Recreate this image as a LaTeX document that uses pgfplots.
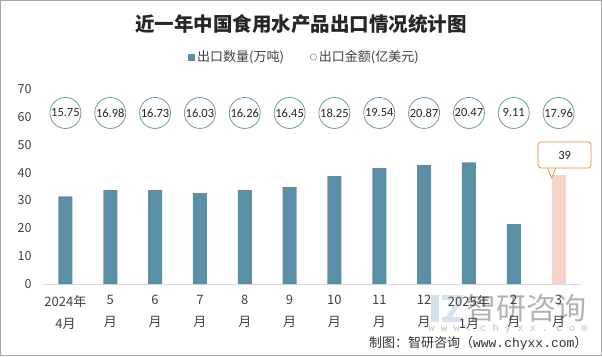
\documentclass[border=0pt]{standalone}
\usepackage{fontspec}
\setmainfont{Noto Sans CJK SC}
\newfontfamily\carl{Carlito}
\newfontfamily\monof{Liberation Mono}
\usepackage{pgfplots}
\usepackage{pgfplotstable}
\pgfplotsset{compat=1.18}
\definecolor{barblue}{HTML}{5B8FA6}
\definecolor{barpink}{HTML}{F8D3CA}
\definecolor{circblue}{HTML}{6A9AB2}
\definecolor{callorange}{HTML}{E88C30}
\definecolor{txt}{HTML}{404040}
\definecolor{logoblue}{HTML}{C5D5EA}

\pgfplotstableread{
x y
0 31.5
1 33.7
2 33.7
3 32.6
4 33.7
5 34.8
6 38.7
7 41.6
8 42.7
9 43.7
10 21.5
}\qtydata

\pgfplotstableread{
x y lab
0 61.4 15.75
1 61.4 16.98
2 61.4 16.73
3 61.4 16.03
4 61.4 16.26
5 61.4 16.45
6 61.4 18.25
7 61.4 19.54
8 61.4 20.87
9 61.4 20.47
10 61.4 9.11
11 61.4 17.96
}\valdata

\begin{document}
\begin{tikzpicture}[x=1pt,y=1pt]
\useasboundingbox (0,0) rectangle (602,356);
\draw[black!35, line width=1.2pt] (0.6,0.6) rectangle (601.4,355.4);
\node[font=\fontsize{19.5}{22}\selectfont\bfseries, text=black!85] at (301,332) {近一年中国食用水产品出口情况统计图};
% watermark
\fill[logoblue, opacity=0.7] (431,34) rectangle (439,61);
\fill[logoblue, opacity=0.7] (442,56) rectangle (463,61);
\fill[logoblue, opacity=0.7] (442,34) rectangle (463,39);
\fill[logoblue, opacity=0.7] (452,39) -- (463,56) -- (457,56) -- (446,39) -- cycle;
\node[font=\fontsize{30}{32}\selectfont, text=black!30] at (526,48) {智研咨询};
\node[font=\monof\fontsize{10.3}{12}\selectfont, text=black!25] at (508,27) {w w w . c h y x x . c o m};
\node[anchor=east, font=\fontsize{13}{15}\selectfont, text=black!80] at (591,13) {制图：智研咨询（{\monof www.chyxx.com}）};
\begin{axis}[
 at={(43pt,72pt)}, anchor=south west, scale only axis, width=538pt, height=195pt,
 xmin=-0.5, xmax=11.5, ymin=0, ymax=70,
 ytick={0,10,...,70},
 xtick={0,...,11},
 xticklabels={{2024年\\4月},{5\\月},{6\\月},{7\\月},{8\\月},{9\\月},{10\\月},{11\\月},{12\\月},{2025年\\1月},{2\\月},{3\\月}},
 xticklabel style={align=center, font=\fontsize{13}{22}\selectfont, text=txt, yshift=-8pt},
 yticklabel style={font=\fontsize{12.5}{15}\selectfont, text=txt, xshift=-8pt},
 /pgf/number format/assume math mode=true,
 major tick length=0pt,
 axis x line*=bottom, axis y line*=left,
 axis line style={-},
 x axis line style={draw=black!15, line width=1pt},
 y axis line style={draw=none},
 clip=false,
 legend style={at={(axis description cs:0.486,1.164)}, anchor=center, draw=none, fill=none, legend columns=2, font=\fontsize{13}{15}\selectfont, text=txt, /tikz/every even column/.append style={column sep=24pt}},
]
\addplot[ybar, bar width=14pt, bar shift=0pt, fill=barblue, draw=none,
  legend image code/.code={\fill[barblue] (0pt,-3.5pt) rectangle (7pt,3.5pt);}]
  table[x=x,y=y]{\qtydata};
\addlegendentry{出口数量(万吨)}
\addplot[only marks, mark=*, mark size=15.5pt,
  mark options={fill=white, draw=circblue, line width=0.8pt},
  point meta=explicit symbolic, nodes near coords, nodes near coords align={anchor=center},
  every node near coord/.append style={font=\carl\fontsize{12.5}{15}\selectfont, text=black!85},
  legend image code/.code={\draw[circblue, line width=0.6pt, fill=white] (3.5pt,0) circle (3.2pt);}]
  table[x=x,y=y,meta=lab]{\valdata};
\addlegendentry{出口金额(亿美元)}
\addplot[ybar, bar width=14pt, bar shift=0pt, fill=barpink, draw=none, forget plot,
  point meta=explicit symbolic, nodes near coords, nodes near coords align={anchor=south},
  every node near coord/.append style={draw=callorange, fill=white,
    minimum width=53pt, minimum height=26pt, xshift=6pt, yshift=7pt,
    inner sep=0pt, rounded corners=3pt, line width=0.7pt,
    font=\carl\fontsize{12.5}{15}\selectfont, text=black!85,
    append after command={
      \pgfextra{\path[fill=white, draw=none] ([xshift=-17pt,yshift=0.9pt]\tikzlastnode.south) -- ([xshift=-13pt,yshift=-10pt]\tikzlastnode.south) -- ([xshift=-9pt,yshift=0.9pt]\tikzlastnode.south) -- cycle;
      \path[draw=callorange, fill=none, line width=0.7pt, line join=round, sharp corners] ([xshift=-17pt]\tikzlastnode.south) -- ([xshift=-13pt,yshift=-10pt]\tikzlastnode.south) -- ([xshift=-9pt]\tikzlastnode.south);}
    }}]
  coordinates {(11,39) [39]};
\end{axis}
\end{tikzpicture}
\end{document}
